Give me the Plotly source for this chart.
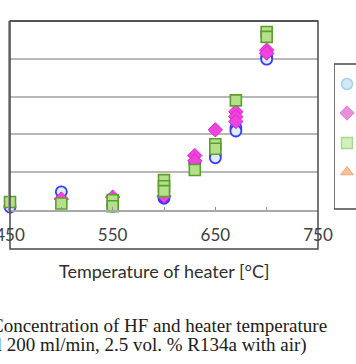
import plotly.graph_objects as go

# ---- data ----
circle_x = [450, 500, 550, 600, 600, 630, 650, 650, 670, 670, 700, 700]
circle_y = [0.08, 0.48, 0.10, 0.31, 0.35, 1.24, 1.45, 1.38, 2.18, 2.09, 4.06, 3.99]

diamond_x = [450, 500, 500, 550, 550, 600, 630, 630, 650, 670, 670, 670, 700, 700]
diamond_y = [-0.12, 0.29, -0.10, 0.34, -0.08, 0.37, 1.44, 1.30, 2.12, 2.60, 2.47, 2.34, 4.23, 4.15]

square_x = [450, 500, 500, 550, 550, 600, 600, 600, 630, 650, 650, 670, 700, 700]
square_y = [0.21, 0.17, -0.03, 0.26, 0.10, 0.79, 0.63, 0.50, 1.06, 1.74, 1.62, 2.90, 4.71, 4.58]

triangle_x = []
triangle_y = []

x_tickvals = [450, 500, 550, 600, 650, 700, 750]
x_ticktext = ["450", "", "550", "", "650", "", "750"]

series_names = ["Series 1", "Series 2", "Series 3", "Series 4"]
legend_keys_y = [84, 113, 143, 172]  # legend key rows (layout, pixel units of y2)

# ---- styles ----
styles = [
    dict(symbol="circle", size=11, color="#dcefff", line=dict(color="#3a3aff", width=1.8)),
    dict(symbol="diamond", size=11, color="#ee44dd", line=dict(color="#dd22cc", width=1)),
    dict(symbol="square", size=11, color="#b4e08c", line=dict(color="#5e9e2e", width=1.6)),
    dict(symbol="triangle-up", size=11, color="#f6b48c", line=dict(color="#ee9a6a", width=1)),
]
legend_styles = [
    dict(symbol="circle", size=11, color="#cfe9f7", line=dict(color="#a9cfe6", width=1.5)),
    dict(symbol="diamond", size=11, color="#e890dc", line=dict(color="#e07fd2", width=1)),
    dict(symbol="square", size=11, color="#d2efbe", line=dict(color="#a6d98c", width=1.3)),
    dict(symbol="triangle-up", size=11, color="#f8c09c", line=dict(color="#f0a47a", width=1)),
]

fig = go.Figure()
for xs, ys, st, nm in zip([circle_x, diamond_x, square_x, triangle_x],
                          [circle_y, diamond_y, square_y, triangle_y],
                          styles, series_names):
    fig.add_trace(go.Scatter(x=xs, y=ys, mode="markers", name=nm, marker=st,
                             cliponaxis=False, showlegend=False,
                             xaxis="x", yaxis="y"))

# manual legend keys (legend labels are cut off at the right edge in the reference)
for st, ky, nm in zip(legend_styles, legend_keys_y, series_names):
    fig.add_trace(go.Scatter(x=[347], y=[ky], mode="markers", marker=st, name=nm,
                             cliponaxis=False, showlegend=False,
                             xaxis="x2", yaxis="y2"))

W, H = 356, 364
L, T, B = 10, 21, 154
PW = W - L
PH = H - T - B

def px_x(p):
    return (p - L) / PW

def px_y(p):
    return (H - B - p) / PH

serif = dict(family="Liberation Serif, Times New Roman, serif", size=19, color="#202020")

fig.update_layout(
    width=W, height=H,
    margin=dict(l=L, r=0, t=T, b=B, pad=0, autoexpand=False),
    paper_bgcolor="white", plot_bgcolor="white",
    showlegend=False,
    font=dict(family="Lato, Liberation Sans, sans-serif", color="#404040"),
    xaxis=dict(domain=[0, px_x(318)], range=[450, 750], tickvals=x_tickvals,
               ticktext=x_ticktext, ticks="inside", ticklen=3, tickcolor="#909090",
               tickwidth=1, showgrid=False, zeroline=False, showline=True,
               linecolor="#a8a8a8", linewidth=1.5, ticklabeloverflow="allow",
               automargin=False, ticklabelstandoff=9,
               tickfont=dict(size=17, color="#404040")),
    yaxis=dict(domain=[0, 1], range=[0, 5], dtick=1, showticklabels=False,
               showgrid=True, gridcolor="#b8b8b8", gridwidth=1.5, zeroline=False,
               automargin=False,
               showline=True, linecolor="#9a9a9a", linewidth=2, ticks=""),
    xaxis2=dict(domain=[px_x(334), 1], range=[334, 356], visible=False,
                anchor="y2", automargin=False),
    yaxis2=dict(domain=[0, 1], range=[210, 21], visible=False, anchor="x2",
                automargin=False),
    shapes=[
        dict(type="rect", xref="paper", yref="paper", x0=0, x1=px_x(318),
             y0=px_y(249), y1=1, line=dict(color="#4a4a4a", width=1.5)),
        dict(type="line", xref="paper", yref="paper", x0=0, x1=px_x(318),
             y0=1, y1=1, line=dict(color="#555555", width=2)),
        dict(type="rect", xref="x2", yref="y2", x0=334, x1=362, y0=64, y1=209,
             line=dict(color="#4a4a4a", width=1.5)),
    ],
    annotations=[
        dict(text="Temperature of heater [°C]", xref="paper", yref="paper",
             x=px_x(164), y=px_y(271), xanchor="center", yanchor="middle",
             showarrow=False, font=dict(size=18, color="#303030")),
        dict(text="Concentration of HF and heater temperature", xref="paper",
             yref="paper", x=px_x(329), y=px_y(325), xanchor="right",
             yanchor="middle", showarrow=False, font=serif),
        dict(text="(total 200 ml/min, 2.5 vol. % R134a with air)", xref="paper",
             yref="paper", x=px_x(309), y=px_y(345), xanchor="right",
             yanchor="middle", showarrow=False, font=serif),
    ],
)

fig.write_html("out.html", config={"displayModeBar": False},
               post_script="document.body.style.margin='0';")
